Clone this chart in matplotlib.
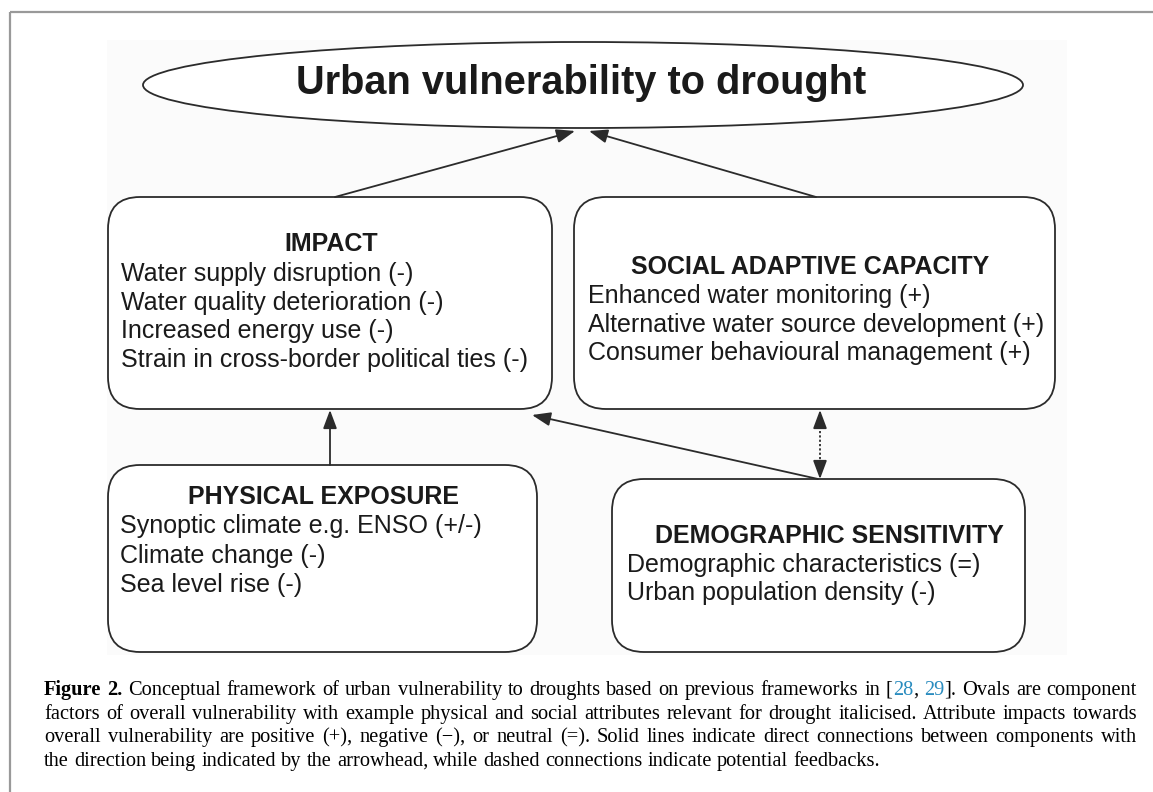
import matplotlib
matplotlib.use("Agg")
import matplotlib.pyplot as plt
from matplotlib.patches import FancyBboxPatch, Ellipse, Rectangle
from matplotlib import font_manager

# ---------------- data (texts) ----------------
TITLE = "Urban vulnerability to drought"

IMPACT_TITLE = "IMPACT"
IMPACT_LINES = ["Water supply disruption (-)",
                "Water quality deterioration (-)",
                "Increased energy use (-)",
                "Strain in cross-border political ties (-)"]

SAC_TITLE = "SOCIAL ADAPTIVE CAPACITY"
SAC_LINES = ["Enhanced water monitoring (+)",
             "Alternative water source development (+)",
             "Consumer behavioural management (+)"]

PE_TITLE = "PHYSICAL EXPOSURE"
PE_LINES = ["Synoptic climate e.g. ENSO (+/-)",
            "Climate change (-)",
            "Sea level rise (-)"]

DEM_TITLE = "DEMOGRAPHIC SENSITIVITY"
DEM_LINES = ["Demographic characteristics (=)",
             "Urban population density (-)"]

BLUE = "#2a8cbf"
CAPTION = [
    [("Figure 2.", "bold", "k"),
     (" Conceptual framework of urban vulnerability to droughts based on previous frameworks in [", "normal", "k"),
     ("28", "normal", BLUE), (", ", "normal", "k"), ("29", "normal", BLUE),
     ("]. Ovals are component", "normal", "k")],
    [("factors of overall vulnerability with example physical and social attributes relevant for drought italicised. Attribute impacts towards", "normal", "k")],
    [("overall vulnerability are positive (+), negative (\u2212), or neutral (=). Solid lines indicate direct connections between components with", "normal", "k")],
    [("the direction being indicated by the arrowhead, while dashed connections indicate potential feedbacks.", "normal", "k")],
]

# ---------------- figure ----------------
W, H = 1153, 792
fig = plt.figure(figsize=(W / 100, H / 100), dpi=100)
ax = fig.add_axes([0, 0, 1, 1])
ax.set_xlim(0, W)
ax.set_ylim(H, 0)
ax.axis("off")

names = {f.name for f in font_manager.fontManager.ttflist}
SANS = "Liberation Sans" if "Liberation Sans" in names else "DejaVu Sans"
NARROW = "Liberation Sans Narrow" if "Liberation Sans Narrow" in names else SANS
SERIF = "Liberation Serif" if "Liberation Serif" in names else "DejaVu Serif"

LINE = "#2b2b2b"
TXT = "#1a1a1a"

# outer frame (top and left only visible)
ax.plot([10, W], [12, 12], color="#999999", lw=1.6, solid_capstyle="butt")
ax.plot([10, 10], [12, H], color="#999999", lw=1.6, solid_capstyle="butt")

# faint diagram background
ax.add_patch(Rectangle((107, 40), 960, 615, facecolor="#fbfbfb", edgecolor="none", zorder=0))

fig.canvas.draw()
renderer = fig.canvas.get_renderer()


def width(s, wt, fs, fam):
    t = ax.text(0, 0, s, fontsize=fs, fontweight=wt, family=fam)
    w = t.get_window_extent(renderer).width
    t.remove()
    return w


# ellipse + title (title sized to span ~567 px)
ax.add_patch(Ellipse((583, 85), 880, 86, facecolor="white", edgecolor=LINE, lw=1.3, zorder=2))
tfs = 30 * 570 / width(TITLE, "bold", 30, NARROW)
ax.text(581, 83, TITLE, fontsize=tfs, fontweight="bold", family=NARROW,
        ha="center", va="center", color=TXT, zorder=3)


def rbox(x0, y0, x1, y1, r=32):
    ax.add_patch(FancyBboxPatch((x0, y0), x1 - x0, y1 - y0,
                                boxstyle=f"round,pad=0,rounding_size={r}",
                                facecolor="white", edgecolor=LINE, lw=1.3, zorder=2))


def block(title, tx, ty, lines, lx, ly0, dy):
    ax.text(tx, ty, title, fontsize=18, fontweight="bold", family=SANS,
            ha="center", va="baseline", color=TXT, zorder=3)
    for i, s in enumerate(lines):
        ax.text(lx, ly0 + i * dy, s, fontsize=18, family=SANS,
                ha="left", va="baseline", color=TXT, zorder=3)


# boxes
rbox(108, 197, 552, 409)     # IMPACT
rbox(574, 197, 1055, 409)    # SOCIAL ADAPTIVE CAPACITY
rbox(108, 465, 537, 652)     # PHYSICAL EXPOSURE
rbox(612, 479, 1025, 652)    # DEMOGRAPHIC SENSITIVITY

block(IMPACT_TITLE, 331, 251, IMPACT_LINES, 121, 281, 28.7)
block(SAC_TITLE, 810, 274, SAC_LINES, 588, 303, 28.7)
block(PE_TITLE, 323, 504, PE_LINES, 120, 533, 29.5)
block(DEM_TITLE, 829, 543, DEM_LINES, 627, 572, 28)


def arrow(p_from, p_to, style="-|>"):
    ax.annotate("", xy=p_to, xytext=p_from,
                arrowprops=dict(arrowstyle=style + ",head_length=0.75,head_width=0.28",
                                mutation_scale=15, color=LINE, lw=1.3,
                                shrinkA=0, shrinkB=0), zorder=4)


arrow((335, 197), (575, 131))
arrow((816, 197), (589, 131))
arrow((330, 465), (330, 410))
arrow((818, 479), (532, 415))
# dotted double-headed feedback arrow
ax.plot([820, 820], [418, 470], color=LINE, lw=1.3, linestyle=(0, (1.2, 1.2)), zorder=4)
arrow((820, 428), (820, 410))
arrow((820, 461), (820, 479))

# ---------------- caption (justified) ----------------


def words_of(line):
    words, cur = [], []
    for txt, wt, col in line:
        parts = txt.split(" ")
        for j, p in enumerate(parts):
            if j > 0:
                if cur:
                    words.append(cur)
                cur = []
            if p:
                cur.append((p, wt, col))
    if cur:
        words.append(cur)
    return words


def space_w(fs):
    return width("x x", "normal", fs, SERIF) - width("xx", "normal", fs, SERIF)


CAP_X0, CAP_X1 = 44, 1137
CAP_Y0, CAP_DY = 695, 23.6
target = CAP_X1 - CAP_X0

fs0 = 15
lw0 = []
for line in CAPTION[:3]:
    ws = words_of(line)
    tot = sum(width(p, wt, fs0, SERIF) for w in ws for (p, wt, c) in w) + (len(ws) - 1) * space_w(fs0)
    lw0.append(tot)
fs = fs0 * target * 0.99 / max(lw0)

sw = space_w(fs)
for i, line in enumerate(CAPTION):
    ws = words_of(line)
    wws = [[width(p, wt, fs, SERIF) for (p, wt, c) in w] for w in ws]
    tot = sum(sum(x) for x in wws)
    if i < len(CAPTION) - 1:
        gap = (target - tot) / (len(ws) - 1)
    else:
        gap = sw
    x = CAP_X0
    y = CAP_Y0 + i * CAP_DY
    for w, ww in zip(ws, wws):
        for (p, wt, c), pw in zip(w, ww):
            ax.text(x, y, p, fontsize=fs, fontweight=wt, family=SERIF, color=c,
                    ha="left", va="baseline")
            x += pw
        x += gap

fig.savefig("out.png", dpi=100)
